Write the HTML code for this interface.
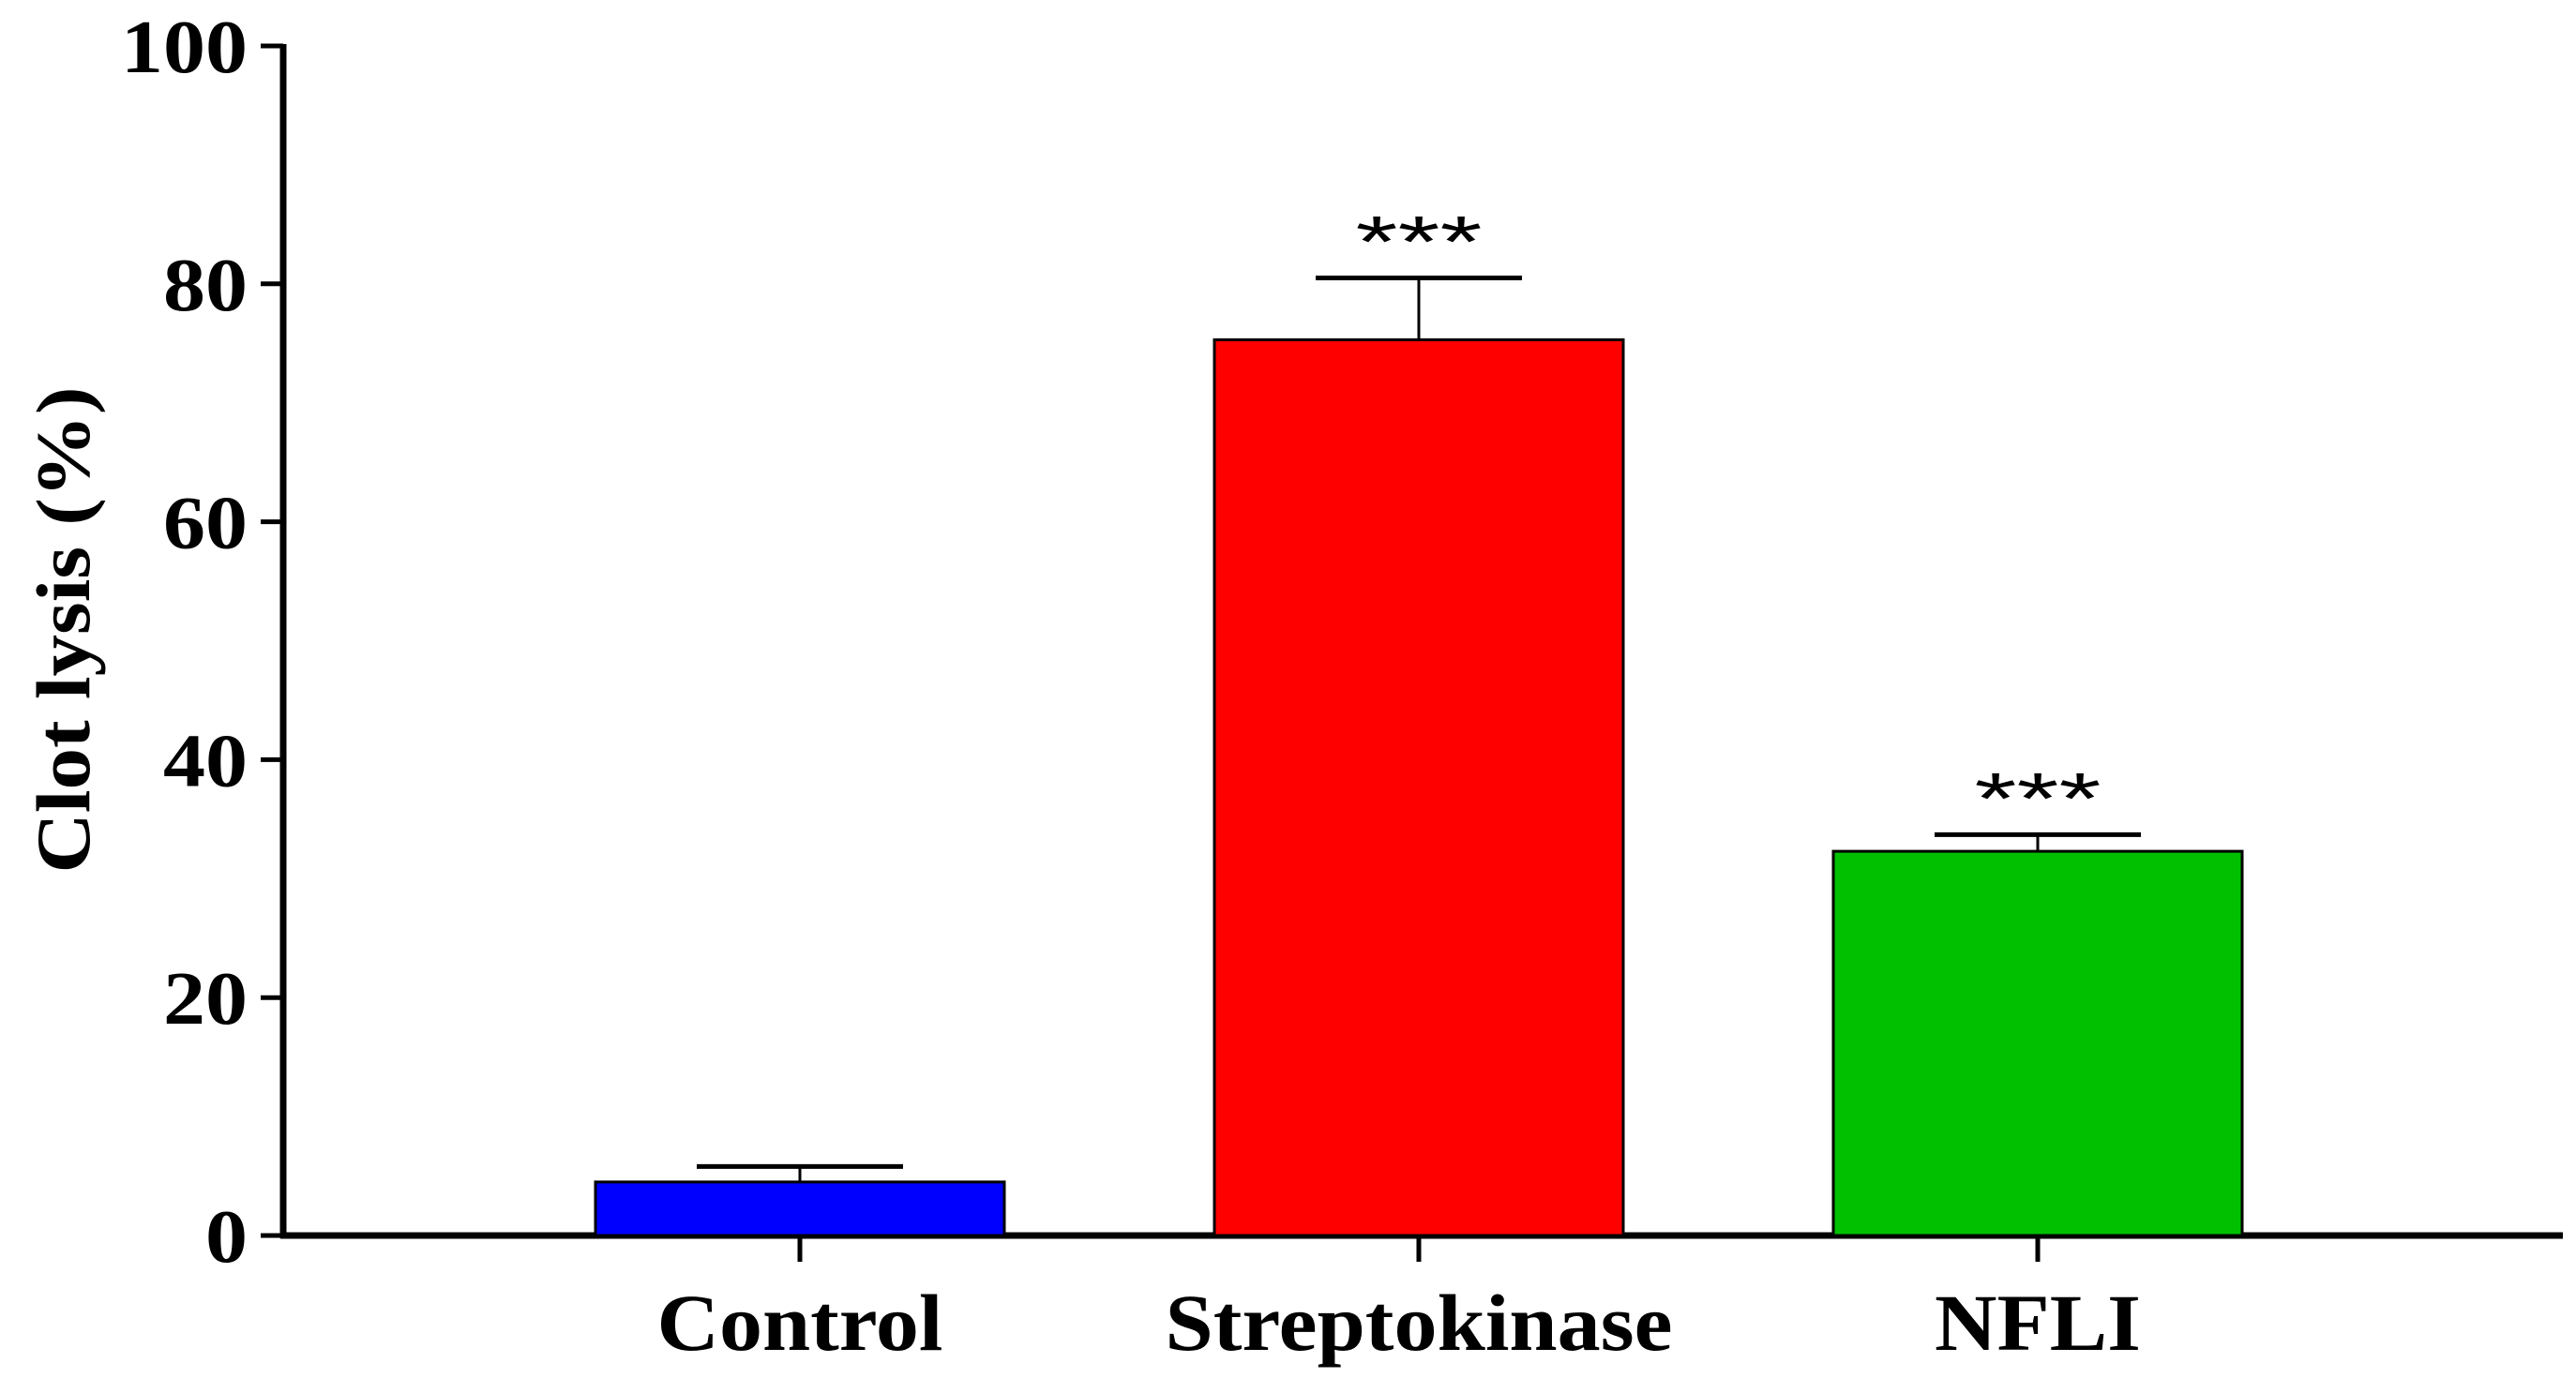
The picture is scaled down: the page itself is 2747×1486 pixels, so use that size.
<!DOCTYPE html>
<html><head><meta charset="utf-8"><style>html,body{margin:0;padding:0;background:#fff}svg{display:block}</style></head>
<body>
<svg id="chart" width="2747" height="1486" viewBox="0 0 2747 1486" xmlns="http://www.w3.org/2000/svg" font-family="'Liberation Serif', serif" font-weight="bold">
<g id="axes"></g><g id="bars"></g>
</svg>
<script>
const categories = ["Control", "Streptokinase", "NFLI"];
const values = [4.5, 75.3, 32.3];
const errors = [1.3, 5.2, 1.4];
const colors = ["#0000ff", "#ff0000", "#00c000"];
const significance = ["", "***", "***"];
const yTicks = [0, 20, 40, 60, 80, 100];
const tickLabels = ["0", "20", "40", "60", "80", "100"];

const NS = "http://www.w3.org/2000/svg";
const x0 = 302, y0 = 1318, yTop = 49, xEnd = 2733;
const centers0 = 853, step = 660, barW = 436;
function yScale(v){ return y0 - (v/100)*(y0 - yTop); }
function xScale(i){ return centers0 + i*step; }
function mk(tag, attrs, parent){ const e=document.createElementNS(NS,tag); for(const k in attrs) e.setAttribute(k, attrs[k]); parent.appendChild(e); return e; }
const axes = document.getElementById('axes'), bars = document.getElementById('bars');

let yl = mk('line',{x1:x0,y1:yTop-2,x2:x0,y2:y0+3,stroke:'#000','stroke-width':7},axes);


let xl = mk('line',{x1:x0-3,y1:y0,x2:xEnd,y2:y0,stroke:'#000','stroke-width':7},axes);



yTicks.forEach((t,i)=>{
  const y = yScale(t);
  const tk = mk('line',{x1:x0-24,y1:y,x2:x0,y2:y,stroke:'#000','stroke-width':5},axes);
  
  
  const lbl = tickLabels[i];
  const tx = mk('text',{x:264,y:y+28,'text-anchor':'end','font-size':80,textLength:lbl.length*45,lengthAdjust:'spacingAndGlyphs'},axes);
  tx.textContent = lbl;
  
  
});

const title = mk('text',{x:0,y:0,'text-anchor':'middle','font-size':82,transform:'translate(95,672) rotate(-90)',textLength:519,lengthAdjust:'spacingAndGlyphs'},axes);
title.textContent = 'Clot lysis (%)';



const labelW = [305, 541, 220];
categories.forEach((c,i)=>{
  const cx = xScale(i);
  const top = yScale(values[i]);
  const eTop = yScale(values[i]+errors[i]);
  const em = mk('line',{x1:cx,y1:top,x2:cx,y2:eTop,stroke:'#000','stroke-width':3},bars);
  
  
  const cap = mk('line',{x1:cx-110,y1:eTop,x2:cx+110,y2:eTop,stroke:'#000','stroke-width':5},bars);
  
  
  const r = mk('rect',{x:cx-barW/2,y:top,width:barW,height:y0-top,fill:colors[i],stroke:'#000','stroke-width':3},bars);
  
  
  const tk = mk('line',{x1:cx,y1:y0,x2:cx,y2:y0+28,stroke:'#000','stroke-width':5},axes);
  
  
  const tl = mk('text',{x:cx,y:1440,'text-anchor':'middle','font-size':86,textLength:labelW[i],lengthAdjust:'spacingAndGlyphs'},axes);
  tl.textContent = c;
  
  
  if(significance[i]){
    const s = mk('text',{x:cx,y:eTop-12,'text-anchor':'middle','font-size':78,'font-weight':'normal','font-family':"'Liberation Sans', sans-serif",textLength:135,lengthAdjust:'spacingAndGlyphs'},bars);
    s.textContent = significance[i];
    
    
  }
});
</script>
</body></html>
